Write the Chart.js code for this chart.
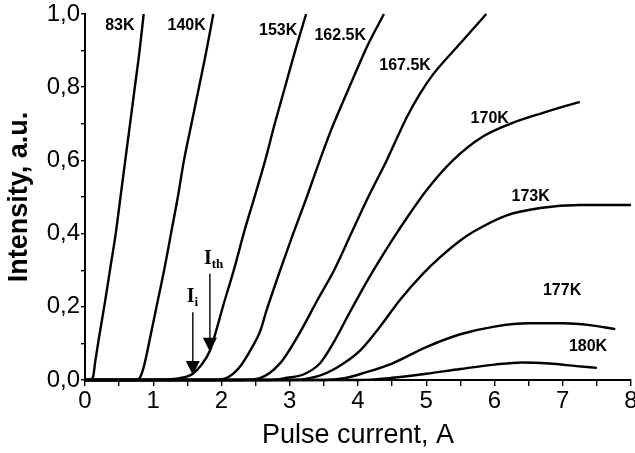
<!DOCTYPE html>
<html>
<head>
<meta charset="utf-8">
<script src="https://cdn.jsdelivr.net/npm/chart.js@4.4.1/dist/chart.umd.min.js"></script>
<style>
  html, body { margin: 0; padding: 0; background: #fff; }
  #wrap { width: 635px; height: 453px; }
</style>
</head>
<body>
<div id="wrap"><canvas id="chart" width="635" height="453"></canvas></div>
<script>
// pulse current (A) and emission intensity (a.u.) for each temperature
const k83Current = [0, 0.09, 0.12, 0.15, 0.2, 0.29, 0.37, 0.45, 0.52, 0.59, 0.66, 0.73, 0.8, 0.86];
const k83Intensity = [0, 0, 0.01, 0.05, 0.11, 0.21, 0.305, 0.4, 0.5, 0.6, 0.7, 0.8, 0.9, 1.0];

const k140Current = [0, 0.74, 0.8, 0.86, 0.97, 1.07, 1.17, 1.26, 1.36, 1.45, 1.56, 1.67, 1.78, 1.88];
const k140Intensity = [0, 0, 0.005, 0.035, 0.13, 0.22, 0.31, 0.4, 0.5, 0.6, 0.7, 0.8, 0.9, 1.0];

const k153Current = [0, 1.0, 1.3, 1.5, 1.58, 1.7, 1.83, 1.93, 2.02, 2.18, 2.34, 2.5, 2.64, 2.78, 2.93, 3.08, 3.24];
const k153Intensity = [0, 0, 0.003, 0.01, 0.017, 0.04, 0.08, 0.14, 0.2, 0.3, 0.41, 0.51, 0.6, 0.7, 0.8, 0.9, 1.0];

const k162Current = [0, 1.9, 2.1, 2.27, 2.45, 2.56, 2.66, 2.86, 3.05, 3.25, 3.44, 3.6, 3.78, 4.0, 4.13, 4.38];
const k162Intensity = [0, 0, 0.008, 0.036, 0.09, 0.13, 0.19, 0.3, 0.4, 0.5, 0.6, 0.68, 0.76, 0.855, 0.91, 1.0];

const k167Current = [0, 2.3, 2.56, 2.86, 3.15, 3.41, 3.65, 3.9, 4.15, 4.42, 4.72, 4.9, 5.1, 5.5, 5.88];
const k167Intensity = [0, 0, 0.005, 0.046, 0.13, 0.22, 0.3, 0.4, 0.5, 0.6, 0.72, 0.78, 0.835, 0.92, 1.0];

const k170Current = [0, 2.7, 2.96, 3.2, 3.44, 3.65, 3.88, 4.18, 4.51, 4.76, 5.01, 5.39, 5.83, 6.23, 6.71, 7.25];
const k170Intensity = [0, 0, 0.006, 0.015, 0.045, 0.105, 0.185, 0.285, 0.385, 0.455, 0.52, 0.6, 0.665, 0.70, 0.73, 0.76];

const k173Current = [0, 3.0, 3.4, 3.7, 4.03, 4.3, 4.62, 4.95, 5.2, 5.49, 5.69, 6.18, 6.67, 7.25, 8.0];
const k173Intensity = [0, 0, 0.01, 0.035, 0.08, 0.14, 0.22, 0.29, 0.335, 0.38, 0.405, 0.45, 0.47, 0.478, 0.478];

const k177Current = [0, 3.5, 3.8, 4.1, 4.5, 5.0, 5.5, 6.0, 6.5, 7.0, 7.4, 7.77];
const k177Intensity = [0, 0, 0.005, 0.02, 0.045, 0.09, 0.125, 0.146, 0.155, 0.155, 0.15, 0.139];

const k180Current = [0, 4.0, 4.5, 5.0, 5.5, 6.0, 6.4, 6.8, 7.2, 7.5];
const k180Intensity = [0, 0, 0.006, 0.017, 0.03, 0.042, 0.048, 0.045, 0.038, 0.033];

const temperatures = ['83K', '140K', '153K', '162.5K', '167.5K', '170K', '173K', '177K', '180K'];
const currents = [k83Current, k140Current, k153Current, k162Current, k167Current, k170Current, k173Current, k177Current, k180Current];
const intensities = [k83Intensity, k140Intensity, k153Intensity, k162Intensity, k167Intensity, k170Intensity, k173Intensity, k177Intensity, k180Intensity];

// where each temperature tag sits, in data units
const tagCurrent = [0.51, 1.49, 2.83, 3.74, 4.69, 5.93, 6.53, 6.99, 7.37];
const tagIntensity = [0.967, 0.967, 0.954, 0.94, 0.858, 0.713, 0.5, 0.243, 0.09];

// threshold arrows on the 153K curve: I_i and I_th
const arrowNames = ['I', 'I'];
const arrowSubs = ['i', 'th'];
const arrowCurrent = [1.58, 1.83];
const arrowTip = [0.014, 0.077];
const arrowTail = [0.185, 0.29];

const xTickLabels = ['0', '1', '2', '3', '4', '5', '6', '7', '8'];
const yTickLabels = ['0,0', '0,2', '0,4', '0,6', '0,8', '1,0'];

const datasets = temperatures.map((t, i) => ({
    label: t,
    data: currents[i].map((x, j) => ({ x: x, y: intensities[i][j] })),
    borderColor: '#000',
    borderWidth: 2.4,
    pointRadius: 0,
    fill: false,
    cubicInterpolationMode: 'monotone',
    clip: false
}));

const annotations = {
    id: 'annotations',
    afterDatasetsDraw(chart) {
        const ctx = chart.ctx;
        const xs = chart.scales.x;
        const ys = chart.scales.y;
        ctx.save();
        ctx.fillStyle = '#000';
        ctx.strokeStyle = '#000';

        // temperature tags
        ctx.font = 'bold 16px "Liberation Sans", Arial, sans-serif';
        ctx.textAlign = 'center';
        ctx.textBaseline = 'middle';
        temperatures.forEach((t, i) => {
            ctx.fillText(t, xs.getPixelForValue(tagCurrent[i]), ys.getPixelForValue(tagIntensity[i]));
        });

        // arrows with their symbols
        arrowCurrent.forEach((c, i) => {
            const x = xs.getPixelForValue(c);
            const yTip = ys.getPixelForValue(arrowTip[i]);
            const yTail = ys.getPixelForValue(arrowTail[i]);
            ctx.lineWidth = 1.4;
            ctx.beginPath();
            ctx.moveTo(x, yTail);
            ctx.lineTo(x, yTip - 10);
            ctx.stroke();
            ctx.beginPath();
            ctx.moveTo(x, yTip);
            ctx.lineTo(x - 7, yTip - 14);
            ctx.lineTo(x + 7, yTip - 14);
            ctx.closePath();
            ctx.fill();

            ctx.textAlign = 'left';
            ctx.textBaseline = 'alphabetic';
            ctx.font = 'bold 20px "Liberation Serif", "Times New Roman", serif';
            const w = ctx.measureText(arrowNames[i]).width;
            const left = x - 6;
            const base = yTail - 10;
            ctx.fillText(arrowNames[i], left, base);
            ctx.font = 'bold 13px "Liberation Serif", "Times New Roman", serif';
            ctx.fillText(arrowSubs[i], left + w, base + 4);
        });
        ctx.restore();
    }
};

new Chart(document.getElementById('chart'), {
    type: 'line',
    data: { datasets: datasets },
    options: {
        responsive: false,
        animation: false,
        layout: { padding: { left: 0, right: 4, top: 14, bottom: 0 } },
        plugins: {
            legend: { display: false },
            tooltip: { enabled: false }
        },
        scales: {
            x: {
                type: 'linear',
                min: 0,
                max: 8,
                afterFit(scale) {
                    scale.height = 73;
                    scale.paddingLeft = 0;
                    scale.paddingRight = 0;
                },
                border: { color: '#000', width: 2 },
                grid: { drawOnChartArea: false, drawTicks: true, tickLength: 6, color: '#000', lineWidth: 1.4 },
                ticks: {
                    stepSize: 0.5,
                    autoSkip: false,
                    maxRotation: 0,
                    padding: 1,
                    color: '#000',
                    font: { family: '"Liberation Sans", Arial, sans-serif', size: 24 },
                    callback: (value) => Number.isInteger(value) ? xTickLabels[value] : ''
                },
                title: {
                    display: true,
                    text: 'Pulse current, A',
                    color: '#000',
                    padding: { top: 0, bottom: 1 },
                    font: { family: '"Liberation Sans", Arial, sans-serif', size: 27 }
                }
            },
            y: {
                min: 0,
                max: 1,
                afterFit(scale) {
                    scale.width = 85;
                    scale.paddingTop = 0;
                    scale.paddingBottom = 0;
                },
                border: { color: '#000', width: 2 },
                grid: { drawOnChartArea: false, drawTicks: true, tickLength: 4, color: '#000', lineWidth: 1.4 },
                ticks: {
                    stepSize: 0.1,
                    autoSkip: false,
                    padding: 1,
                    color: '#000',
                    font: { family: '"Liberation Sans", Arial, sans-serif', size: 24 },
                    callback: (value, index) => index % 2 === 0 ? yTickLabels[index / 2] : ''
                },
                title: {
                    display: true,
                    text: 'Intensity, a.u.',
                    color: '#000',
                    padding: { top: 3, bottom: 0 },
                    font: { family: '"Liberation Sans", Arial, sans-serif', size: 27, weight: 'bold' }
                }
            }
        }
    },
    plugins: [annotations]
});
</script>
</body>
</html>
